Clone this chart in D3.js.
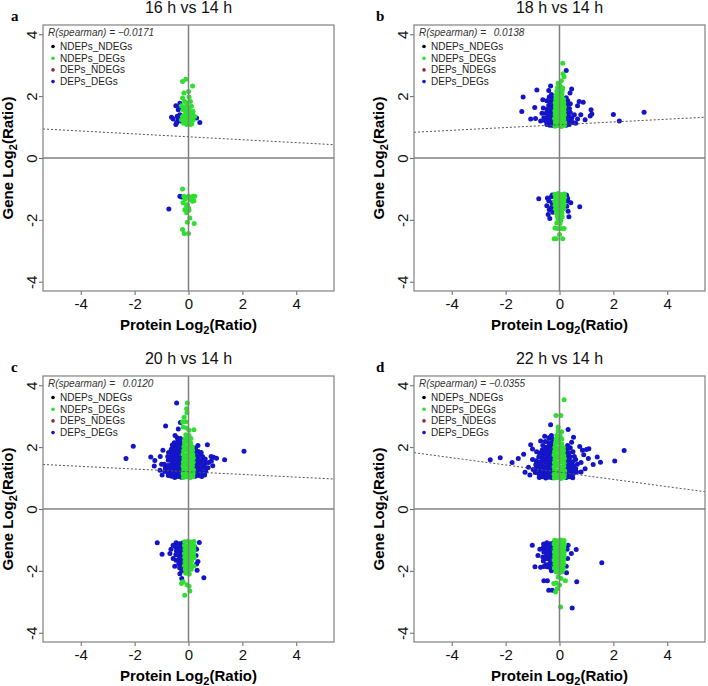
<!DOCTYPE html>
<html>
<head>
<meta charset="utf-8">
<script src="https://cdn.jsdelivr.net/npm/d3@7"></script>
<style>
  body { margin: 0; background: #fff; }
  svg { display: block; }
  text { font-family: "Liberation Sans", Arial, sans-serif; }
</style>
</head>
<body>
<svg id="chart" width="708" height="686"></svg>
<script>
// panel texts and fit values
const titles = ["16 h vs 14 h", "18 h vs 14 h", "20 h vs 14 h", "22 h vs 14 h"];
const letters = ["a", "b", "c", "d"];
const rhoValues = [-0.0171, 0.0138, 0.0120, -0.0355];
const fitIntercepts = [0.685, 1.075, 1.205, 1.19];
const fitSlopes = [-0.047, 0.045, -0.0435, -0.117];

const legendNames = ["NDEPs_NDEGs", "NDEPs_DEGs", "DEPs_NDEGs", "DEPs_DEGs"];
const legendColors = ["#000000", "#2ee02e", "#8b2a3c", "#1414c8"];

const xTicks = [-4, -2, 0, 2, 4];
const yTicks = [-4, -2, 0, 2, 4];

// points: [protein log2, gene log2]
const aGreen = [
  [-0.22,2.47],[-0.10,2.55],[0.15,2.33],[0.0,2.15],[-0.17,2.10],[-0.22,1.94],[0.02,1.97],[0.07,1.83],
  [-0.14,1.83],[-0.26,1.69],[-0.07,1.69],[0.11,1.67],[-0.20,1.56],[0.0,1.56],[0.17,1.50],[-0.14,1.40],
  [0.05,1.40],[-0.22,1.34],[-0.07,1.29],[0.11,1.29],[0.23,1.34],[-0.16,1.18],[0.0,1.18],[0.17,1.22],
  [-0.07,1.08],[0.07,1.08],[-0.26,1.24],[-0.04,1.45],[0.15,1.40],[-0.12,1.65],[0.03,1.25],[-0.10,1.35],
  [0.08,1.15],[-0.18,1.12],[0.12,1.10],[-0.02,1.32],[0.06,1.50],[-0.09,1.50],[0.02,1.62],[-0.05,1.78],
  [-0.22,-1.0],[-0.17,-1.24],[0.0,-1.24],[0.17,-1.24],[0.23,-1.24],[-0.14,-1.34],[0.05,-1.34],[-0.20,-1.45],
  [-0.04,-1.50],[0.15,-1.40],[-0.14,-1.67],[0.02,-1.69],[-0.07,-1.56],[0.05,-1.94],[0.21,-2.12],[-0.04,-2.08],
  [-0.22,-2.31],[-0.16,-2.44],[0.0,-2.44],[-0.07,-1.77],[0.10,-1.30],[-0.10,-1.28],[0.20,-1.38],[0.0,-1.62]
];
const aBlue = [
  [-0.47,1.69],[-0.32,1.77],[-0.30,1.65],[-0.38,1.56],[-0.63,1.32],[-0.57,1.26],[-0.44,1.15],[-0.47,1.08],
  [-0.36,1.29],[-0.32,1.40],[0.30,1.29],[0.42,1.15],[-0.38,1.24],[-0.30,1.20],[-0.42,1.35],
  [-0.32,-1.24],[-0.26,-1.26],[-0.73,-1.65]
];

const bGreen = [
  [-0.17,1.03],[-0.05,1.05],[0.07,1.02],[0.18,1.06],[-0.15,1.16],[-0.04,1.14],[0.06,1.17],[0.19,1.15],
  [-0.18,1.28],[-0.06,1.26],[0.05,1.29],[0.16,1.27],[-0.16,1.41],[-0.03,1.39],[0.08,1.42],[0.18,1.40],
  [-0.17,1.53],[-0.05,1.51],[0.06,1.54],[0.17,1.52],[-0.15,1.66],[-0.04,1.64],[0.07,1.67],[0.18,1.65],
  [-0.16,1.79],[-0.06,1.77],[0.05,1.80],[0.16,1.78],[-0.14,1.91],[-0.03,1.89],[0.08,1.92],[0.15,1.90],
  [-0.12,2.04],[-0.02,2.02],[0.09,2.05],[-0.10,2.16],[0.0,2.14],[0.10,2.17],[-0.07,2.28],[0.04,2.30],
  [0.12,2.26],[-0.05,2.42],[0.07,2.50],[0.17,2.63],[0.13,2.72],[0.12,3.06],[0.0,2.38],
  [-0.17,-1.17],[-0.05,-1.15],[0.07,-1.18],[0.18,-1.16],[-0.15,-1.29],[-0.04,-1.27],[0.08,-1.30],[0.19,-1.28],
  [-0.18,-1.41],[-0.06,-1.39],[0.05,-1.42],[0.16,-1.40],[-0.16,-1.53],[-0.03,-1.51],[0.08,-1.54],[0.17,-1.52],
  [-0.14,-1.65],[-0.04,-1.63],[0.07,-1.66],[0.15,-1.64],[-0.12,-1.77],[-0.02,-1.75],[0.09,-1.78],
  [-0.08,-1.89],[0.03,-1.87],[0.10,-1.90],[-0.05,-2.0],[0.05,-2.02],[-0.10,-2.10],[0.02,-2.12],
  [-0.17,-2.26],[-0.08,-2.28],[0.07,-2.28],[0.17,-2.28],[0.0,-2.47],[-0.20,-2.61],[-0.12,-2.61],[0.12,-2.61]
];
const bBlue = [
  [-0.25,1.05],[-0.36,1.06],[-0.47,1.08],[-0.28,1.17],[-0.40,1.18],[-0.52,1.20],[-0.24,1.29],[-0.35,1.30],
  [-0.46,1.31],[-0.27,1.42],[-0.38,1.43],[-0.50,1.45],[-0.25,1.55],[-0.36,1.56],[-0.46,1.58],[-0.28,1.68],
  [-0.40,1.70],[-0.25,1.80],[-0.37,1.82],[-0.47,1.85],[-0.28,1.93],[-0.38,1.97],[-0.30,2.05],[-0.40,2.18],
  [-0.33,2.33],[-1.35,1.97],[-1.40,1.50],[-0.84,2.20],[-0.92,1.63],[-1.07,1.26],[-0.89,1.28],[-0.65,1.45],
  [-0.70,1.20],[-0.60,1.62],[-0.58,1.30],[-0.62,1.88],
  [0.25,1.06],[0.36,1.08],[0.27,1.19],[0.39,1.21],[0.24,1.32],[0.35,1.34],[0.46,1.30],[0.28,1.45],
  [0.40,1.47],[0.25,1.58],[0.37,1.60],[0.27,1.72],[0.40,1.75],[0.30,1.86],[0.25,1.95],[0.45,2.23],
  [0.39,2.10],[0.25,2.83],[0.50,1.15],[0.55,1.40],[0.73,1.83],[0.88,1.80],[0.67,1.69],[0.79,1.40],
  [0.67,1.26],[0.95,1.24],[1.17,1.56],[1.20,1.42],[1.14,1.36],[2.0,1.41],[2.22,1.20],[3.14,1.48],[0.60,1.12],
  [-0.77,-1.32],[-0.45,-1.29],[-0.40,-1.38],[-0.47,-1.54],[-0.38,-1.67],[-0.42,-1.83],[-0.36,-1.96],[-0.30,-1.25],
  [-0.28,-1.45],[-0.30,-1.60],[0.32,-1.40],[0.42,-1.45],[0.75,-1.58],[0.32,-1.72],[0.35,-1.90],[0.27,-1.56],
  [0.25,-1.25],[0.30,-1.30],[-0.25,-1.75],[-0.27,-1.20],[0.26,-1.20]
];

const cGreen = [
  [-0.19,1.02],[-0.07,1.04],[0.05,1.01],[0.16,1.05],[-0.20,1.14],[-0.08,1.16],[0.04,1.13],[0.17,1.15],
  [-0.18,1.27],[-0.06,1.25],[0.06,1.28],[0.18,1.26],[-0.20,1.39],[-0.09,1.41],[0.03,1.38],[0.15,1.40],
  [-0.19,1.52],[-0.07,1.50],[0.05,1.53],[0.17,1.51],[-0.17,1.64],[-0.05,1.66],[0.07,1.63],[0.18,1.65],
  [-0.20,1.77],[-0.08,1.75],[0.04,1.78],[0.16,1.76],[-0.18,1.89],[-0.06,1.91],[0.06,1.88],[0.15,1.90],
  [-0.17,2.02],[-0.05,2.0],[0.07,2.03],[0.14,2.01],[-0.15,2.14],[-0.04,2.16],[0.08,2.13],[-0.13,2.27],
  [-0.02,2.25],[0.09,2.28],[-0.10,2.40],[0.02,2.38],[0.20,2.56],[0.02,2.55],[-0.07,2.62],[-0.20,2.65],
  [-0.10,2.82],[-0.22,2.82],[-0.16,2.97],[-0.06,3.11],[-0.07,3.24],[-0.04,3.43],
  [-0.14,-1.06],[-0.02,-1.04],[0.10,-1.07],[0.20,-1.05],[-0.15,-1.18],[-0.03,-1.20],[0.09,-1.17],[0.21,-1.19],
  [-0.13,-1.31],[-0.01,-1.33],[0.11,-1.30],[0.20,-1.32],[-0.15,-1.44],[-0.03,-1.46],[0.09,-1.43],[0.19,-1.45],
  [-0.14,-1.57],[-0.02,-1.59],[0.10,-1.56],[0.21,-1.58],[-0.13,-1.70],[-0.01,-1.72],[0.11,-1.69],
  [-0.15,-1.83],[-0.03,-1.85],[0.09,-1.82],[0.20,-1.84],[-0.12,-1.96],[0.0,-1.98],[0.10,-1.95],
  [-0.10,-2.08],[0.03,-2.10],[-0.20,-2.35],[-0.26,-2.41],[-0.06,-2.45],[0.02,-2.50],[0.05,-2.65],[-0.14,-2.79]
];
const cBlue = [
  [-0.27,1.03],[-0.39,1.05],[-0.51,1.02],[-0.63,1.06],[-0.75,1.08],[-0.29,1.15],[-0.41,1.17],[-0.53,1.14],
  [-0.65,1.18],[-0.78,1.20],[-0.88,1.22],[-0.26,1.28],[-0.38,1.30],[-0.50,1.27],[-0.62,1.31],[-0.74,1.29],
  [-0.86,1.33],[-0.28,1.40],[-0.40,1.42],[-0.52,1.39],[-0.64,1.43],[-0.76,1.41],[-0.90,1.45],[-0.27,1.53],
  [-0.39,1.55],[-0.51,1.52],[-0.63,1.56],[-0.75,1.58],[-0.29,1.65],[-0.41,1.67],[-0.53,1.64],[-0.65,1.68],
  [-0.77,1.70],[-0.26,1.78],[-0.38,1.80],[-0.50,1.77],[-0.62,1.81],[-0.74,1.83],[-0.28,1.90],[-0.40,1.92],
  [-0.52,1.89],[-0.64,1.93],[-0.27,2.03],[-0.39,2.05],[-0.51,2.02],[-0.60,2.07],[-0.29,2.15],[-0.41,2.17],
  [-0.53,2.14],[-0.30,2.28],[-0.42,2.30],[-0.50,2.38],
  [-0.44,3.43],[-0.85,2.68],[-0.38,2.59],[-0.30,2.80],[-2.05,2.03],[-2.32,1.63],[-1.40,1.68],[-1.25,1.57],
  [-1.27,1.39],[-1.06,1.25],[-1.0,1.45],[-0.98,1.10],[-1.05,1.70],[-0.95,1.90],
  [0.25,1.06],[0.37,1.08],[0.49,1.05],[0.60,1.10],[0.27,1.19],[0.39,1.21],[0.51,1.18],[0.64,1.22],
  [0.24,1.32],[0.36,1.34],[0.48,1.31],[0.60,1.35],[0.72,1.33],[0.26,1.45],[0.38,1.47],[0.50,1.44],
  [0.63,1.48],[0.75,1.50],[0.25,1.58],[0.37,1.60],[0.49,1.57],[0.62,1.62],[0.27,1.71],[0.39,1.73],
  [0.52,1.70],[0.24,1.84],[0.36,1.86],[0.47,1.83],[0.26,1.97],[0.35,2.05],[0.70,2.08],
  [2.06,1.87],[1.34,1.59],[1.04,1.64],[0.93,1.67],[0.84,1.70],[0.85,1.55],[0.90,1.40],
  [-0.22,-1.10],[-0.34,-1.12],[-0.46,-1.09],[-0.57,-1.17],[-0.24,-1.23],[-0.36,-1.25],[-0.48,-1.22],
  [-0.21,-1.36],[-0.33,-1.38],[-0.45,-1.35],[-0.69,-1.44],[-0.23,-1.49],[-0.35,-1.51],[-0.47,-1.48],
  [-0.57,-1.60],[-0.22,-1.62],[-0.34,-1.64],[-0.46,-1.66],[-0.24,-1.75],[-0.36,-1.77],[-0.51,-1.85],
  [-0.22,-1.88],[-0.33,-1.90],[-0.25,-2.0],[-0.32,-2.09],[-0.25,-2.25],
  [-1.16,-1.09],[-0.98,-1.46],[-0.65,-1.30],[0.40,-1.08],[0.23,-1.22],[0.57,-2.22],[0.35,-1.70],
  [0.30,-1.78],[0.32,-1.98],[0.28,-1.50],[0.30,-1.30]
];

const dGreen = [
  [-0.19,1.0],[-0.07,1.02],[0.05,0.99],[0.17,1.03],[-0.20,1.12],[-0.08,1.14],[0.04,1.11],[0.18,1.13],
  [-0.18,1.25],[-0.06,1.23],[0.06,1.26],[0.19,1.24],[-0.20,1.37],[-0.09,1.39],[0.03,1.36],[0.16,1.38],
  [-0.19,1.50],[-0.07,1.48],[0.05,1.51],[0.17,1.49],[-0.17,1.62],[-0.05,1.64],[0.07,1.61],[0.18,1.63],
  [-0.20,1.75],[-0.08,1.73],[0.04,1.76],[0.16,1.74],[-0.18,1.87],[-0.06,1.89],[0.06,1.86],[0.15,1.88],
  [-0.17,2.0],[-0.05,1.98],[0.07,2.01],[0.14,1.99],[-0.15,2.12],[-0.04,2.14],[0.08,2.11],[-0.13,2.25],
  [-0.02,2.23],[0.09,2.26],[-0.10,2.38],[0.02,2.36],[0.08,2.50],[-0.05,2.52],[-0.05,2.65],
  [-0.13,3.02],[0.05,3.02],[0.17,3.53],
  [-0.18,-1.01],[-0.06,-1.03],[0.06,-1.0],[0.17,-1.02],[-0.20,-1.13],[-0.08,-1.15],[0.04,-1.12],[0.18,-1.14],
  [-0.17,-1.26],[-0.05,-1.28],[0.07,-1.25],[0.16,-1.27],[-0.19,-1.39],[-0.07,-1.41],[0.05,-1.38],[0.17,-1.40],
  [-0.18,-1.52],[-0.06,-1.54],[0.06,-1.51],[0.18,-1.53],[-0.20,-1.65],[-0.08,-1.67],[0.04,-1.64],[0.15,-1.66],
  [-0.17,-1.78],[-0.05,-1.80],[0.07,-1.77],[0.16,-1.79],[-0.19,-1.91],[-0.07,-1.93],[0.05,-1.90],[0.14,-1.92],
  [-0.12,-2.04],[0.0,-2.06],[0.10,-2.03],[-0.15,-2.68],[0.04,-3.17],[0.22,-2.32],[-0.12,-2.39],[0.0,-2.46],
  [-0.21,-2.41],[-0.05,-2.20],[0.06,-2.25],[-0.09,-2.58]
];
const dBlue = [
  [-0.27,1.01],[-0.39,1.03],[-0.51,1.0],[-0.63,1.04],[-0.75,1.02],[-0.29,1.13],[-0.41,1.15],[-0.53,1.12],
  [-0.65,1.16],[-0.77,1.14],[-0.90,1.18],[-0.26,1.26],[-0.38,1.28],[-0.50,1.25],[-0.62,1.29],[-0.74,1.27],
  [-0.86,1.31],[-0.98,1.28],[-0.28,1.38],[-0.40,1.40],[-0.52,1.37],[-0.64,1.41],[-0.76,1.39],[-0.88,1.43],
  [-0.27,1.51],[-0.39,1.53],[-0.51,1.50],[-0.63,1.54],[-0.75,1.52],[-0.87,1.56],[-1.0,1.60],[-0.29,1.63],
  [-0.41,1.65],[-0.53,1.62],[-0.65,1.66],[-0.77,1.68],[-0.26,1.76],[-0.38,1.78],[-0.50,1.75],[-0.62,1.79],
  [-0.74,1.81],[-0.85,1.85],[-0.28,1.88],[-0.40,1.90],[-0.52,1.87],[-0.64,1.91],[-0.27,2.01],[-0.39,2.03],
  [-0.51,2.0],[-0.62,2.05],[-0.29,2.13],[-0.41,2.15],[-0.53,2.18],[-0.27,2.26],[-0.40,2.30],[-0.30,2.38],
  [-0.33,2.72],[-2.57,1.59],[-2.20,1.66],[-1.76,1.50],[-1.53,1.63],[-1.33,1.77],[-1.07,2.08],[-1.0,1.94],
  [-1.28,1.19],[-1.15,1.35],[-1.10,1.10],[-0.55,2.35],[-0.70,2.20],
  [0.25,1.02],[0.37,1.04],[0.49,1.01],[0.27,1.15],[0.39,1.17],[0.51,1.14],[0.63,1.20],[0.24,1.28],
  [0.36,1.30],[0.48,1.27],[0.60,1.31],[0.26,1.41],[0.38,1.43],[0.50,1.40],[0.66,1.45],[0.25,1.54],
  [0.37,1.56],[0.49,1.53],[0.60,1.60],[0.27,1.67],[0.39,1.69],[0.55,1.70],[0.24,1.80],[0.36,1.82],
  [0.50,1.85],[0.26,1.93],[0.40,1.98],[0.30,2.05],
  [0.32,2.57],[2.40,1.89],[2.05,1.55],[1.52,1.51],[1.40,1.68],[1.09,1.95],[1.0,1.92],[0.75,2.02],
  [0.52,2.32],[0.45,2.16],[1.07,1.63],[1.25,1.44],[0.85,1.90],[0.90,1.75],[0.80,1.50],[0.95,1.30],[0.80,1.20],
  [-0.23,-1.10],[-0.35,-1.12],[-0.47,-1.09],[-0.59,-1.13],[-0.25,-1.23],[-0.37,-1.25],[-0.49,-1.22],
  [-0.61,-1.26],[-0.73,-1.30],[-0.22,-1.36],[-0.34,-1.38],[-0.46,-1.35],[-0.58,-1.39],[-0.24,-1.49],
  [-0.36,-1.51],[-0.48,-1.48],[-0.62,-1.55],[-0.23,-1.62],[-0.35,-1.64],[-0.47,-1.61],[-0.60,-1.68],
  [-0.25,-1.75],[-0.37,-1.77],[-0.50,-1.80],[-0.22,-1.88],[-0.34,-1.90],[-0.46,-1.87],[-0.58,-1.86],
  [-0.70,-1.88],[-0.30,-2.0],
  [-1.01,-1.17],[-0.91,-1.87],[0.47,-3.20],[0.64,-2.35],[1.57,-1.74],[-0.40,-2.63],[-0.27,-2.63],
  [-0.58,-2.32],[-0.45,-2.32],[0.62,-1.31],[0.44,-1.44],[0.32,-1.17],[0.26,-2.06],[0.28,-1.30],
  [0.30,-1.60],[0.25,-1.85],[-0.80,-1.50]
];

const greenSets = [aGreen, bGreen, cGreen, dGreen];
const blueSets = [aBlue, bBlue, cBlue, dBlue];

// layout
const plotW = 291, plotH = 266;
const lefts = [43, 414, 43, 414];
const tops = [25, 25, 376, 376];
const letterX = [11, 376, 11, 376];

const svg = d3.select("#chart");

function rhoText(v) {
    let s = Math.abs(v).toFixed(4);
    return "R(spearman) = " + (v < 0 ? "\u2212" : "\u2002") + s;
}

titles.forEach((title, i) => {

    const x = d3.scaleLinear().domain([-5.4, 5.4]).range([0, plotW]);
    const y = d3.scaleLinear().domain([-4.3, 4.3]).range([plotH, 0]);

    const g = svg.append("g")
                 .attr("transform", `translate(${lefts[i]},${tops[i]})`);

    // title and panel letter
    g.append("text")
     .attr("x", plotW / 2).attr("y", -12)
     .attr("text-anchor", "middle")
     .style("font-size", "16px").attr("fill", "#111")
     .text(title);

    svg.append("text")
       .attr("x", letterX[i]).attr("y", tops[i] - 4)
       .style("font-family", "'Liberation Serif', 'Times New Roman', serif")
       .style("font-size", "15px").style("font-weight", "bold")
       .text(letters[i]);

    // axes
    const xAxis = d3.axisBottom(x).tickValues(xTicks).tickSize(4).tickPadding(3)
                    .tickFormat(d => String(d));
    const yAxis = d3.axisLeft(y).tickValues(yTicks).tickSize(4)
                    .tickFormat(d => String(d));

    const gx = g.append("g").attr("transform", `translate(0,${plotH})`).call(xAxis);
    const gy = g.append("g").call(yAxis);

    [gx, gy].forEach(a => {
        a.select(".domain").remove();
        a.selectAll("line").attr("stroke", "#666");
        a.selectAll("text").style("font-size", "15px").attr("fill", "#111")
         .style("font-family", "'Liberation Sans', Arial, sans-serif");
    });

    gy.selectAll("text")
      .attr("x", null).attr("dy", null)
      .attr("text-anchor", "middle")
      .attr("transform", "translate(-6,0) rotate(-90)");

    // axis titles
    const xl = g.append("text")
                .attr("x", plotW / 2).attr("y", plotH + 39)
                .attr("text-anchor", "middle")
                .style("font-size", "15px").style("font-weight", "bold");
    xl.append("tspan").text("Protein Log");
    xl.append("tspan").attr("dy", 4).style("font-size", "11px").text("2");
    xl.append("tspan").attr("dy", -4).text("(Ratio)");

    const yl = g.append("text")
                .attr("transform", `translate(-30,${plotH / 2}) rotate(-90)`)
                .attr("text-anchor", "middle")
                .style("font-size", "15px").style("font-weight", "bold");
    yl.append("tspan").text("Gene Log");
    yl.append("tspan").attr("dy", 4).style("font-size", "11px").text("2");
    yl.append("tspan").attr("dy", -4).text("(Ratio)");

    // points (blue first, green over it)
    const clip = "clip" + i;
    g.append("clipPath").attr("id", clip)
     .append("rect").attr("width", plotW).attr("height", plotH);

    const pts = g.append("g").attr("clip-path", `url(#${clip})`);

    pts.selectAll("circle.blue")
       .data(blueSets[i])
       .enter().append("circle")
       .attr("class", "blue")
       .attr("cx", d => x(d[0])).attr("cy", d => y(d[1]))
       .attr("r", 2.5).attr("fill", legendColors[3]);

    pts.selectAll("circle.green")
       .data(greenSets[i])
       .enter().append("circle")
       .attr("class", "green")
       .attr("cx", d => x(d[0])).attr("cy", d => y(d[1]))
       .attr("r", 2.5).attr("fill", legendColors[1]);

    // zero lines
    pts.append("line")
       .attr("x1", x(0)).attr("x2", x(0)).attr("y1", 0).attr("y2", plotH)
       .attr("stroke", "#808080").attr("stroke-width", 1.5);
    pts.append("line")
       .attr("x1", 0).attr("x2", plotW).attr("y1", y(0)).attr("y2", y(0))
       .attr("stroke", "#808080").attr("stroke-width", 1.5);

    // fitted line
    const x0 = -5.4, x1 = 5.4;
    pts.append("line")
       .attr("x1", x(x0)).attr("y1", y(fitIntercepts[i] + fitSlopes[i] * x0))
       .attr("x2", x(x1)).attr("y2", y(fitIntercepts[i] + fitSlopes[i] * x1))
       .attr("stroke", "#555").attr("stroke-width", 1)
       .attr("stroke-dasharray", "2,2");

    // box
    g.append("rect")
     .attr("width", plotW).attr("height", plotH)
     .attr("fill", "none").attr("stroke", "#808080").attr("stroke-width", 1.2);

    // legend
    g.append("text")
     .attr("x", 5).attr("y", 11)
     .style("font-size", "10px").style("font-style", "italic")
     .style("white-space", "pre").attr("fill", "#333")
     .text(rhoText(rhoValues[i]));

    const leg = g.selectAll("g.leg")
                 .data(legendNames)
                 .enter().append("g")
                 .attr("class", "leg")
                 .attr("transform", (d, k) => `translate(0,${25 + k * 11.7})`);

    leg.append("circle")
       .attr("cx", 10).attr("cy", -3.5).attr("r", 1.8)
       .attr("fill", (d, k) => legendColors[k]);

    leg.append("text")
       .attr("x", 17).attr("y", 0)
       .style("font-size", "10px").attr("fill", "#222")
       .text(d => d);
});
</script>
</body>
</html>
